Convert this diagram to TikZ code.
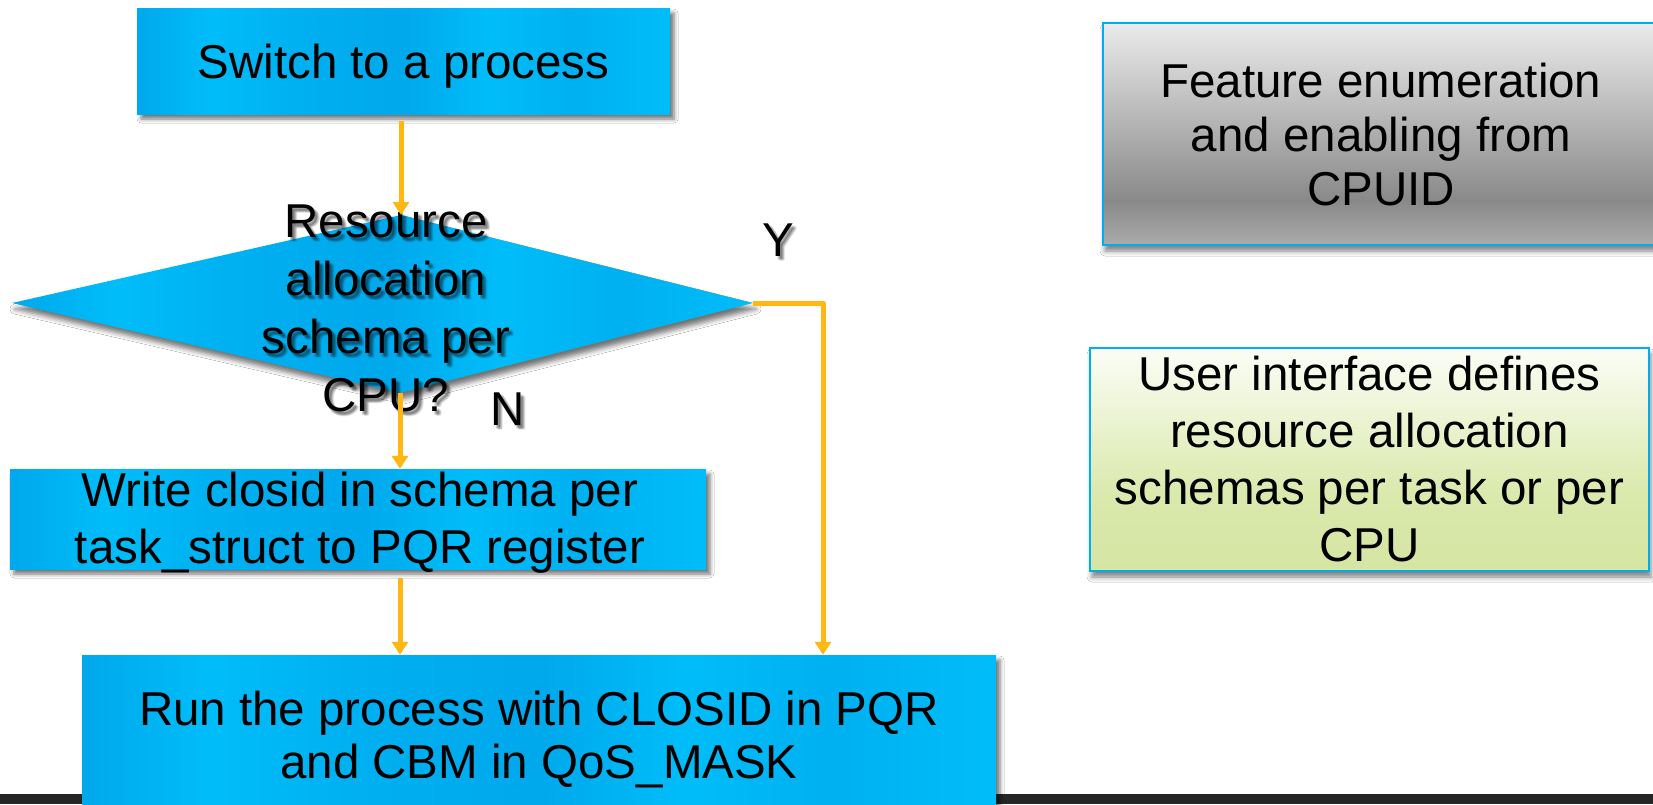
\documentclass[tikz,border=0pt]{standalone}
\usepackage{fontspec}
\setmainfont{Liberation Sans}
\usetikzlibrary{shadows.blur, arrows.meta, calc}
\definecolor{bluebase}{RGB}{0,176,240}
\definecolor{bluelight}{RGB}{0,189,249}
\definecolor{bluedark}{RGB}{0,168,236}
\definecolor{arroworange}{RGB}{255,183,20}
\definecolor{framecyan}{RGB}{0,174,239}
\definecolor{barblack}{RGB}{38,38,38}
\definecolor{grayA}{RGB}{171,171,171}
\definecolor{grayB}{RGB}{137,137,137}
\definecolor{grayC}{RGB}{235,235,235}
\definecolor{greenA}{RGB}{213,229,163}
\definecolor{greenB}{RGB}{218,233,172}
\definecolor{greenC}{RGB}{251,253,245}
\pgfdeclarehorizontalshading{bluestreak}{100bp}{color(0bp)=(bluedark); color(25bp)=(bluedark); color(32bp)=(bluelight); color(40bp)=(bluebase); color(50bp)=(bluedark); color(58bp)=(bluelight); color(66bp)=(bluebase); color(75bp)=(bluelight); color(100bp)=(bluelight)}
\pgfdeclareverticalshading{grayfade}{100bp}{color(0bp)=(grayA); color(25bp)=(grayA); color(35bp)=(grayB); color(75bp)=(grayC); color(100bp)=(grayC)}
\pgfdeclareverticalshading{greenfade}{100bp}{color(0bp)=(greenA); color(25bp)=(greenA); color(42bp)=(greenB); color(75bp)=(greenC); color(100bp)=(greenC)}
\newcommand\bigtext{\fontsize{47.5}{57}\selectfont}
\newcommand\feattext{\fontsize{47.5}{54}\selectfont}
\newcommand\runtext{\fontsize{47.5}{53}\selectfont}
\newcommand\dtexts{\fontsize{47.5}{58}\selectfont}
\begin{document}
\begin{tikzpicture}[x=1pt,y=-1pt,
  bluebox/.style={shade, shading=bluestreak, inner sep=0pt,
    blur shadow={shadow xshift=4pt, shadow yshift=-5pt, shadow blur radius=4pt, shadow opacity=55}},
  graybox/.style={shade, shading=grayfade, draw=framecyan, line width=2.5pt, inner sep=0pt,
    blur shadow={shadow xshift=2pt, shadow yshift=-6pt, shadow blur radius=5pt, shadow opacity=50}},
  greenbox/.style={shade, shading=greenfade, draw=framecyan, line width=2.5pt, inner sep=0pt,
    blur shadow={shadow xshift=2pt, shadow yshift=-6pt, shadow blur radius=5pt, shadow opacity=50}},
  diamondfill/.style={shade, shading=bluestreak,
    blur shadow={shadow xshift=3pt, shadow yshift=-6pt, shadow blur radius=5pt, shadow opacity=55}},
  arr/.style={draw=arroworange, line width=5pt, line join=round, -{Triangle[width=16pt,length=13pt]}},
  txt/.style={inner sep=0pt, align=center, font=\bigtext},
  lbl/.style={inner sep=0pt, align=center, font=\dtexts},
  lblshadow/.style={inner sep=0pt, align=center, font=\dtexts, text=black, text opacity=0.09}
]
\useasboundingbox (0,0) rectangle (1653,804);
\fill[white] (0,0) rectangle (1653,804);
\fill[barblack] (0,794) rectangle (1653,804);

% right-hand boxes
\node[graybox, minimum width=556pt, minimum height=222pt] (feat) at (1381,134) {};
\node[txt, font=\feattext] (feattext) at (1381,135) {Feature enumeration\\and enabling from\\CPUID};
\node[greenbox, minimum width=559pt, minimum height=223pt] (user) at (1369.5,459.5) {};
\node[txt] (usertext) at (1369.5,459.5)
  {User interface defines\\resource allocation\\schemas per task or per\\CPU};

% flow chart
\node[bluebox, minimum width=533pt, minimum height=106pt] (switch) at (403.5,61) {};
\node[txt] (switchtext) at (403.5,66) {Switch to a process};

\coordinate (dl) at (12,303);
\coordinate (dt) at (401,215);
\coordinate (dr) at (753,303);
\coordinate (db) at (400,393);
\path[diamondfill] (dl) -- (dt) -- (dr) -- (db) -- cycle;

\foreach \dx/\dy [count=\i] in {2/3, 4/3, 3/4, 3/2, 4/5, 2/4, 5/4} {
  \node[lblshadow] (dshadow\i) at (386+\dx,308+\dy) {Resource\\allocation\\schema per\\CPU?};
  \node[lblshadow] (yshadow\i) at (778+\dx,240+\dy) {Y};
  \node[lblshadow] (nshadow\i) at (508+\dx,409+\dy) {N};
}
\node[lbl] (dtext) at (386,308) {Resource\\allocation\\schema per\\CPU?};
\node[lbl] (ylabel) at (778,240) {Y};
\node[lbl] (nlabel) at (508,409) {N};

\node[bluebox, minimum width=696pt, minimum height=100pt] (write) at (358,519) {};
\node[txt] (writetext) at (360,523) {Write closid in schema per\\task\_struct to PQR register};

\node[bluebox, minimum width=914pt, minimum height=155pt] (run) at (539,732.5) {};
\node[txt, font=\runtext] (runtext) at (539,739) {Run the process with CLOSID in PQR\\and CBM in QoS\_MASK};

\coordinate (ycorner) at (823,303);

\draw[arr] ($(switch.south -| dt)+(0,7)$) -- (dt);
\draw[arr] (db) -- (db |- write.north);
\draw[arr] ($(write.south -| db)+(0,9)$) -- (db |- run.north);
\draw[arr] (dr) -- (ycorner) -- (ycorner |- run.north);
\end{tikzpicture}
\end{document}
